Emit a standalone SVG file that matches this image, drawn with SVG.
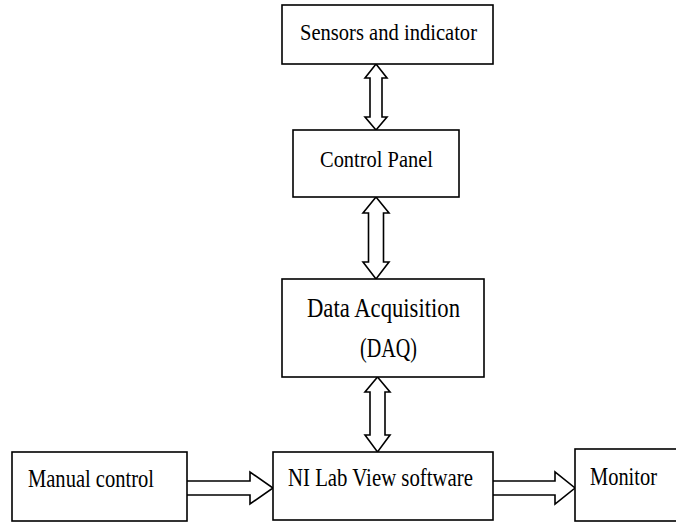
<svg xmlns="http://www.w3.org/2000/svg" width="676" height="522" viewBox="0 0 676 522">
<style>
.box{fill:#fff;stroke:#000;stroke-width:1.6}
.arr{fill:#fff;stroke:#000;stroke-width:1.6;stroke-linejoin:miter}
.t{font-family:"Liberation Serif","Times New Roman",serif;fill:#000}
</style>
<rect width="676" height="522" fill="#fff"/>
<g id="connectors">
<path class="arr" d="M376,64 L387,78 L382,78 L382,117 L387,117 L376,130 L365,117 L370,117 L370,78 L365,78 Z"/>
<path class="arr" d="M376,197 L389,213 L383.5,213 L383.5,262 L389,262 L376,279 L363,262 L368.5,262 L368.5,213 L363,213 Z"/>
<path class="arr" d="M377.5,377 L390,392 L385,392 L385,435 L390,435 L377.5,452 L365,435 L370,435 L370,392 L365,392 Z"/>
<path class="arr" d="M187,481 L250,481 L250,472 L273,488 L250,504 L250,495 L187,495"/>
<path class="arr" d="M493,481 L555,481 L555,472 L575,488 L555,504 L555,495 L493,495"/>
</g>
<g id="sensors">
<rect class="box" x="282" y="5" width="211" height="59"/>
<text class="t" x="300" y="40" font-size="23" textLength="177" lengthAdjust="spacingAndGlyphs">Sensors and indicator</text>
</g>
<g id="control-panel">
<rect class="box" x="293" y="130" width="166" height="67"/>
<text class="t" x="320" y="167" font-size="24" textLength="113" lengthAdjust="spacingAndGlyphs">Control Panel</text>
</g>
<g id="daq">
<rect class="box" x="282" y="279" width="202" height="98"/>
<text class="t" x="307" y="317" font-size="27" textLength="153" lengthAdjust="spacingAndGlyphs">Data Acquisition</text>
<text class="t" x="360" y="357" font-size="27" textLength="57" lengthAdjust="spacingAndGlyphs">(DAQ)</text>
</g>
<g id="manual-control">
<rect class="box" x="12" y="452" width="175" height="69"/>
<text class="t" x="28" y="487" font-size="25" textLength="126" lengthAdjust="spacingAndGlyphs">Manual control</text>
</g>
<g id="labview">
<rect class="box" x="273" y="452" width="220" height="68"/>
<text class="t" x="288" y="486" font-size="25" textLength="185" lengthAdjust="spacingAndGlyphs">NI Lab View software</text>
</g>
<g id="monitor">
<rect class="box" x="575" y="449" width="105" height="72"/>
<text class="t" x="590" y="485" font-size="25" textLength="67" lengthAdjust="spacingAndGlyphs">Monitor</text>
</g>
</svg>
